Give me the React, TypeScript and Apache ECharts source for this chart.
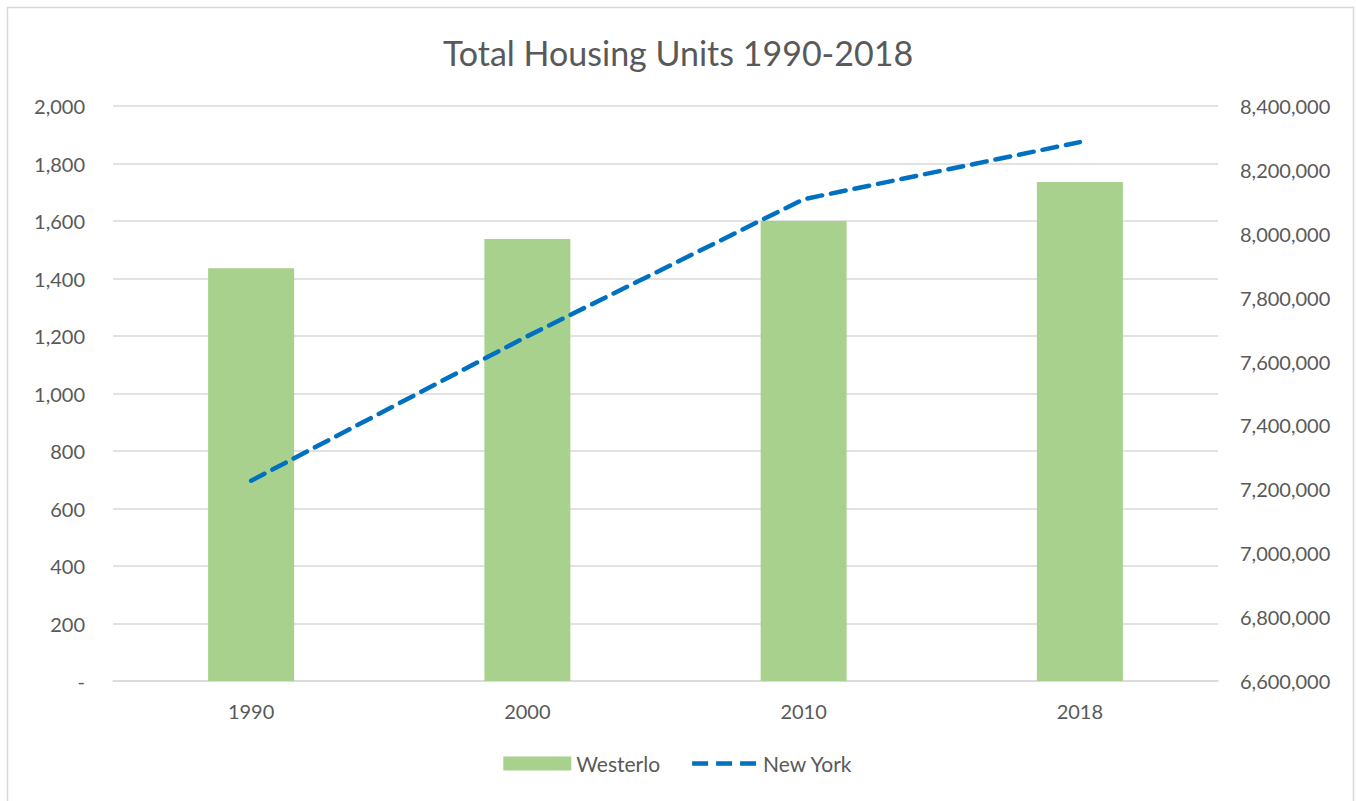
import React, { useEffect, useRef } from "react";
import * as echarts from "echarts";

const years = ["1990", "2000", "2010", "2018"];
const westerlo = [1436, 1537, 1600, 1736];
const newYork = [7226891, 7679307, 8108103, 8287000];

const FONT = "Lato, 'Open Sans', sans-serif";
const TXT = "#595959";

const dashIcon =
  "path://M0,0h0.01v0.01h-0.01z M68,14h0.01v0.01h-0.01z " +
  "M2,4.75h16v4.5h-16z M26,4.75h16v4.5h-16z M50,4.75h16v4.5h-16z";

export default function App() {
  const ref = useRef<HTMLDivElement>(null);
  useEffect(() => {
    if (!ref.current) return;
    const chart = echarts.init(ref.current, undefined, { renderer: "svg" });
    const fmt = (v: number) => (v === 0 ? "-" : v.toLocaleString("en-US"));
    chart.setOption({
      animation: false,
      backgroundColor: "#ffffff",
      textStyle: { fontFamily: FONT },
      graphic: [
        {
          type: "rect",
          shape: { x: 7.5, y: 7.5, width: 1346, height: 800 },
          style: { fill: "none", stroke: "#d9d9d9", lineWidth: 1.5 },
          silent: true,
          z: -1,
        },
      ],
      title: {
        text: "Total Housing Units 1990-2018",
        left: "center",
        top: 30,
        textStyle: { fontFamily: FONT, fontSize: 34, fontWeight: "normal", color: TXT },
      },
      legend: {
        bottom: 22,
        left: "center",
        itemWidth: 68,
        itemHeight: 14,
        itemGap: 30,
        textStyle: { fontFamily: FONT, fontSize: 21, color: TXT },
        data: [
          { name: "Westerlo", icon: "rect" },
          { name: "New York", icon: dashIcon, itemStyle: { color: "#0070c0" } },
        ],
      },
      grid: { left: 113, right: 138, top: 106, bottom: 120 },
      xAxis: {
        type: "category",
        data: years,
        axisLine: { lineStyle: { color: "#d9d9d9", width: 1.5 } },
        axisTick: { show: false },
        axisLabel: { fontFamily: FONT, fontSize: 20, color: TXT, margin: 20 },
      },
      yAxis: [
        {
          type: "value",
          min: 0,
          max: 2000,
          interval: 200,
          axisLine: { show: false },
          axisTick: { show: false },
          splitLine: { lineStyle: { color: "#d9d9d9", width: 1.5 } },
          axisLabel: { fontFamily: FONT, fontSize: 20, color: TXT, margin: 28, formatter: fmt },
        },
        {
          type: "value",
          min: 6600000,
          max: 8400000,
          interval: 200000,
          axisLine: { show: false },
          axisTick: { show: false },
          splitLine: { show: false },
          axisLabel: { fontFamily: FONT, fontSize: 20, color: TXT, margin: 22, formatter: fmt },
        },
      ],
      series: [
        {
          name: "Westerlo",
          type: "bar",
          data: westerlo,
          barWidth: 86,
          itemStyle: { color: "#a9d18e" },
          yAxisIndex: 0,
        },
        {
          name: "New York",
          type: "line",
          data: newYork,
          yAxisIndex: 1,
          symbol: "none",
          itemStyle: { color: "#0070c0" },
          lineStyle: { color: "#0070c0", width: 4.5, type: [15, 9], cap: "round" },
        },
      ],
    });
    return () => chart.dispose();
  }, []);
  return (
    <div
      ref={ref}
      style={{ position: "absolute", left: 0, top: 0, width: 1356, height: 801 }}
    />
  );
}
